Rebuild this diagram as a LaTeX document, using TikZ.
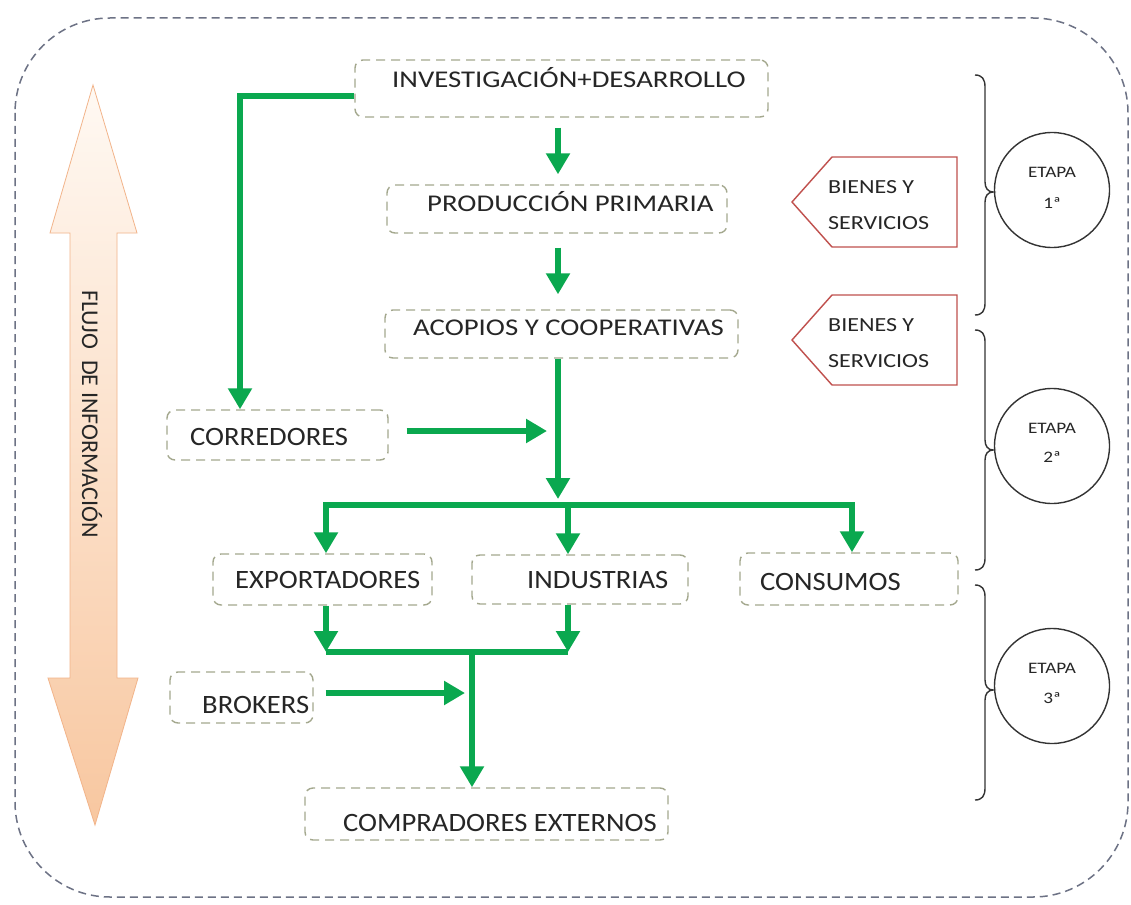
\documentclass[tikz,border=0pt]{standalone}
\usepackage{fontspec}
\setmainfont{Carlito}
\newfontfamily\fup[FakeStretch=1.2]{Carlito}
\newfontfamily\flo[FakeStretch=1.08]{Carlito}
\usetikzlibrary{arrows.meta,calc}
\definecolor{grn}{HTML}{0AA84F}
\definecolor{frm}{HTML}{6D7285}
\definecolor{boxc}{HTML}{A4A88E}
\definecolor{pent}{HTML}{C0504D}
\definecolor{txtc}{HTML}{262626}
\definecolor{pkA}{HTML}{FFF9F3}
\definecolor{pkB}{HTML}{F8C7A0}
\definecolor{pkL}{HTML}{F2B48A}
\tikzset{
  box/.style={draw=boxc, line width=1.4pt, dash pattern=on 9pt off 6pt, rounded corners=8pt, inner sep=0pt, fill=white},
  upt/.style={inner sep=0pt, text=txtc, font=\fup\fontsize{24}{28}\selectfont},
  lot/.style={inner sep=0pt, text=txtc, font=\flo\fontsize{26.5}{30}\selectfont},
  smt/.style={inner sep=0pt, text=txtc, font=\fup\fontsize{20}{24}\selectfont},
  ett/.style={inner sep=0pt, text=txtc, font=\fup\fontsize{16}{20}\selectfont},
  flow/.style={draw=grn, line width=6.5pt, -{Triangle[width=23pt,length=21pt]}},
  gline/.style={draw=grn, line width=6.5pt},
  pentag/.style={draw=pent, line width=1.4pt, fill=white},
  circ/.style={draw=black!80, line width=1.4pt, circle, minimum size=115pt, inner sep=0pt},
  brc/.style={draw=black!80, line width=1.4pt},
  frame/.style={draw=frm, line width=1.5pt, dash pattern=on 8pt off 5pt, rounded corners=95pt}
}
\begin{document}
\begin{tikzpicture}[x=1pt,y=-1pt]
\useasboundingbox (0,0) rectangle (1131,904);
\fill[white] (0,0) rectangle (1131,904);
% outer frame
\draw[frame] (15,18) rectangle (1128,897);
% big double arrow
\shade[top color=pkA, bottom color=pkB, draw=pkL, line width=0.8pt]
  (93,85) -- (137,233) -- (117,233) -- (117,678) -- (138,678) -- (95,825)
  -- (48,678) -- (70,678) -- (70,233) -- (50,233) -- cycle;
\node[rotate=-90, anchor=base west, inner sep=0pt, text=txtc, font=\fontsize{24}{28}\selectfont] (flujo) at (82,290) {FLUJO\ \ DE INFORMACIÓN};
% boxes
\node[box, minimum width=413pt, minimum height=57pt] (inv) at (561.5,88.5) {};
\node[box, minimum width=340pt, minimum height=48pt] (prod) at (557,209) {};
\node[box, minimum width=353pt, minimum height=48pt] (acop) at (561.5,334) {};
\node[box, minimum width=221pt, minimum height=50pt] (corr) at (277.5,435) {};
\node[box, minimum width=219pt, minimum height=51pt] (expo) at (322.5,579.5) {};
\node[box, minimum width=216pt, minimum height=49pt] (indu) at (580,579.5) {};
\node[box, minimum width=218pt, minimum height=52pt] (cons) at (849,579) {};
\node[box, minimum width=143pt, minimum height=51pt] (brok) at (241.5,697.5) {};
\node[box, minimum width=363pt, minimum height=52pt] (comp) at (486.5,814) {};
% texts
\node[upt, anchor=base west] (tinv) at (392,88) {INVESTIGACIÓN+DESARROLLO};
\node[upt, anchor=base west] (tprod) at (427,211) {PRODUCCIÓN PRIMARIA};
\node[upt, anchor=base west] (tacop) at (413,335) {ACOPIOS Y COOPERATIVAS};
\node[lot, anchor=base west] (tcorr) at (190,445.5) {CORREDORES};
\node[lot, anchor=base west] (texpo) at (235,588.5) {EXPORTADORES};
\node[lot, anchor=base west] (tindu) at (527,588.5) {INDUSTRIAS};
\node[lot, anchor=base west] (tcons) at (760,590.5) {CONSUMOS};
\node[lot, anchor=base west] (tbrok) at (202,713.5) {BROKERS};
\node[lot, anchor=base west] (tcomp) at (343,831.5) {COMPRADORES EXTERNOS};
% junction coordinates
\coordinate (j1) at (558,499);
\coordinate (jL) at (326,505);
\coordinate (jI) at (568,505);
\coordinate (jR) at (852,505);
\coordinate (cr) at (547,431);
\coordinate (kL) at (326,652);
\coordinate (kR) at (568,652);
\coordinate (k) at (472,652);
\coordinate (br) at (465,693);
% flows
\draw[flow] ([yshift=-7.5pt]inv.west) -| ([xshift=-37.5pt]corr.north);
\draw[flow, shorten <=10pt, shorten >=10pt] (inv.south -| j1) -- (prod.north -| j1);
\draw[flow, shorten <=14pt, shorten >=15pt] (prod.south -| j1) -- (acop.north -| j1);
\draw[flow] (acop.south -| j1) -- (j1);
\draw[flow, shorten <=18pt] ([yshift=4pt]corr.east) -- (cr);
\draw[flow] (jI) -| ([xshift=3.5pt]expo.north);
\draw[flow] (jI) -| (cons.north -| jR);
\draw[flow] (jI) -- (indu.north -| jI);
\draw[flow] (expo.south -| kL) -- (kL);
\draw[flow] (indu.south -| kR) -- (kR);
\draw[gline] (kL) -- (kR);
\draw[flow] (k) -- (comp.north -| k);
\draw[flow, shorten <=12pt] ([yshift=4.5pt]brok.east) -- (br);
% pentagons
\draw[pentag] (957,157) -- (832,157) -- (792,202) -- (832,247) -- (957,247) -- cycle;
\draw[pentag] (957,295) -- (832,295) -- (792,340) -- (832,385) -- (957,385) -- cycle;
\node[smt, anchor=west] (b1a) at (828,187) {BIENES Y};
\node[smt, anchor=west] (b1b) at (828,223) {SERVICIOS};
\node[smt, anchor=west] (b2a) at (828,325) {BIENES Y};
\node[smt, anchor=west] (b2b) at (828,361) {SERVICIOS};
% braces
\foreach \yt/\ym/\yb in {75/192/315, 330/450/570, 585/690/800}{
  \draw[brc] (975,\yt) .. controls (982,\yt) and (985,\yt+4) .. (985,\yt+12)
    -- (985,\ym-10) .. controls (985,\ym-4) and (988,\ym) .. (993,\ym)
    .. controls (988,\ym) and (985,\ym+4) .. (985,\ym+10)
    -- (985,\yb-12) .. controls (985,\yb-4) and (982,\yb) .. (975,\yb);
}
% circles
\node[circ] (e1) at (1052,190) {};
\node[circ] (e2) at (1052,446) {};
\node[circ] (e3) at (1052,686) {};
\node[ett] (e1a) at (1052,172) {ETAPA};
\node[ett] (e1b) at (1052,203) {1ª};
\node[ett] (e2a) at (1052,428) {ETAPA};
\node[ett] (e2b) at (1052,457) {2ª};
\node[ett] (e3a) at (1052,668) {ETAPA};
\node[ett] (e3b) at (1052,698) {3ª};
\end{tikzpicture}
\end{document}
